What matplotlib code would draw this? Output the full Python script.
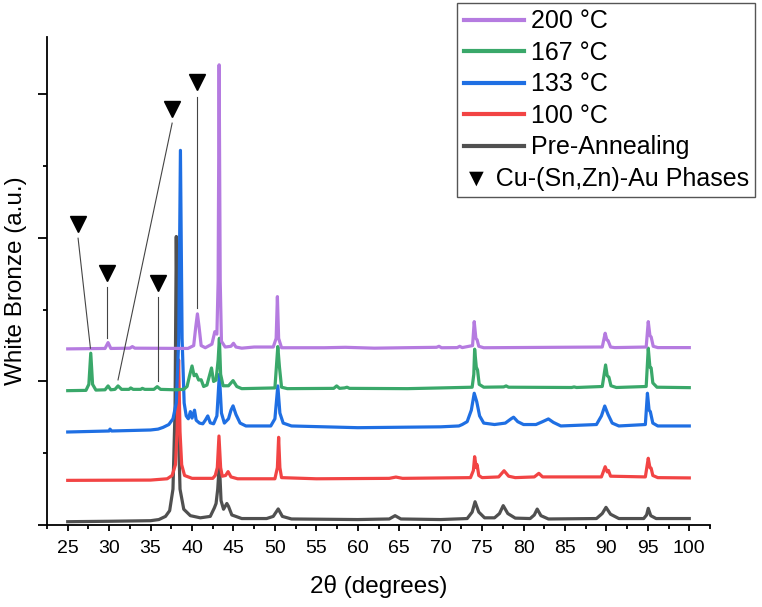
import matplotlib
matplotlib.use("Agg")
import matplotlib.pyplot as plt
from matplotlib.lines import Line2D

plt.rcParams['font.family'] = ['Liberation Sans', 'DejaVu Sans']

# Pre-Annealing
x_pre = [25, 30, 35, 36, 36.8, 37.3, 37.7, 37.95, 38.1, 38.3, 38.55, 39, 39.8, 41, 42.2, 42.7, 42.9, 43.1, 43.3, 43.5,
         43.8, 44.2, 44.4, 44.8, 46, 49, 49.8, 50.4, 50.9, 52, 60, 63.8, 64.5, 65.2, 70, 73.2, 73.8, 74.15, 74.6, 75.3,
         76.5, 77.1, 77.55, 78.1, 79, 80.8, 81.3, 81.65, 82.1, 83, 88.8, 89.5, 89.95, 90.5, 91.5, 94.5, 94.85, 95.05,
         95.35, 96, 100]
y_pre = [23, 26, 30, 38, 60, 100, 250, 800, 2010, 800, 250, 110, 65, 50, 60, 120, 150, 250, 430, 170,
         110, 150, 130, 70, 45, 45, 60, 112, 60, 42, 38, 42, 65, 42, 38, 45, 90, 162, 90, 50,
         50, 80, 135, 80, 48, 45, 70, 111, 65, 42, 45, 80, 123, 75, 45, 45, 70, 116,
         65, 45, 45]

# 100 °C
x_100 = [25, 35, 37, 37.6, 38, 38.2, 38.38, 38.55, 38.75, 39.1, 40, 42.5, 42.8, 43.05, 43.25, 43.45, 43.65, 44.05,
         44.35, 44.7, 45.5, 50.0, 50.3, 50.45, 50.6, 50.8, 55, 63.8, 64.6, 65.4, 73.6, 73.95, 74.1, 74.3, 74.4, 74.6,
         75, 77.0, 77.65, 78.2, 79, 81.3, 81.85, 82.3, 89.4, 89.85, 90.1, 90.25, 90.5, 94.7, 95.05, 95.25, 95.4, 95.6,
         96.2, 100]
y_100 = [311, 313, 322, 345, 420, 650, 1150, 650, 420, 345, 325, 325, 345, 400, 620, 400, 340, 345,
         372, 335, 322, 322, 400, 611, 400, 330, 322, 325, 334, 325, 330, 380, 476, 400, 420, 345,
         330, 335, 378, 340, 330, 335, 360, 335, 335, 406, 370, 380, 340, 335, 465, 400, 395, 345,
         330, 328]

# 133 °C
x_133 = [25, 30, 30.1, 30.3, 35, 35.9, 36.5, 37.2, 37.7, 38.1, 38.4, 38.6, 38.8, 39.05, 39.3, 39.55, 39.8, 40.0,
         40.3, 40.5, 40.9, 41.3, 41.6, 41.9, 42.2, 42.6, 43.0, 43.3, 43.55, 43.9, 44.4, 44.7, 44.95, 45.3, 45.8, 46.5,
         49.5, 50.0, 50.35, 50.6, 51, 52, 60, 70, 72.2, 72.6, 73.2, 73.7, 74.05, 74.35, 74.7, 75.2, 76.5, 77.8, 78.5,
         78.8, 79.3, 80, 81.5, 82.3, 83.0, 83.6, 84.5, 88.8, 89.4, 89.8, 90.2, 90.7, 91.5, 94.7, 94.95, 95.15, 95.3,
         95.6, 96.2, 100]
y_133 = [648, 655, 668, 655, 662, 668, 680, 700, 740, 850, 1300, 2610, 1300, 850, 760, 740, 790, 745,
         800, 730, 710, 705, 730, 760, 712, 705, 760, 1050, 780, 710, 740, 800, 830, 770, 710, 690,
         690, 740, 969, 780, 710, 690, 678, 684, 690, 700, 720, 800, 918, 860, 760, 710, 700, 710, 740,
         751, 720, 700, 700, 720, 739, 715, 690, 700, 760, 829, 770, 710, 690, 700, 918, 800, 790,
         710, 690, 690]

# 167 °C
x_167 = [25, 27.2, 27.55, 27.78, 28.0, 28.4, 29.5, 29.87, 30.2, 30.7, 31.07, 31.5, 32.4, 32.6, 32.9, 33.8, 34.0,
         34.3, 35.4, 35.8, 36.2, 38.0, 39.0, 39.4, 39.7, 40.0, 40.25, 40.5, 40.8, 41.1, 41.4, 41.8, 42.1, 42.35,
         42.6, 42.9, 43.15, 43.3, 43.45, 43.75, 44.4, 44.95, 45.4, 46, 50.0, 50.35, 50.55, 50.8, 51.5, 57.1, 57.45,
         57.8, 58.4, 58.7, 59, 66, 70, 73.8, 74.0, 74.1, 74.3, 74.45, 74.65, 75.2, 77.6, 77.9, 78.2, 85.8, 86.1,
         86.4, 89.5, 89.9, 90.1, 90.3, 90.55, 91.2, 94.8, 95.05, 95.25, 95.4, 95.6, 96.1, 100]
y_167 = [936, 938, 980, 1197, 980, 940, 942, 969, 942, 945, 969, 945, 945, 955, 945, 945, 952,
         945, 945, 964, 945, 942, 945, 965, 1040, 1108, 1040, 1050, 1010, 1012, 965, 975, 1040, 1094,
         1000, 1010, 1150, 1301, 1050, 970, 970, 1006, 965, 950, 955, 1243, 1100, 960, 950, 952, 969,
         952, 955, 960, 952, 950, 955, 960, 1050, 1225, 1100, 1080, 980, 960, 962, 969, 960, 958, 962,
         958, 965, 1115, 1040, 1030, 970, 958, 965, 1232, 1100, 1094, 990, 960, 957]

# 200 °C
x_200 = [25, 29.5, 29.87, 30.2, 32.5, 32.8, 33.1, 39.5, 40.2, 40.45, 40.65, 40.85, 41.1, 41.6, 42.4, 42.75, 43.0,
         43.15, 43.27, 43.4, 43.55, 44.0, 44.7, 45.0, 45.3, 46, 47.5, 49.8, 50.15, 50.3, 50.45, 50.8, 56, 58.5, 62,
         65.5, 69.5, 69.8, 70.1, 72.0, 72.3, 72.6, 73.85, 74.05, 74.25, 74.4, 74.6, 75.2, 89.5, 89.85, 90.05, 90.2,
         90.5, 91, 94.8, 95.05, 95.25, 95.4, 95.65, 96.2, 100]
y_200 = [1227, 1230, 1271, 1230, 1232, 1243, 1232, 1230, 1250, 1380, 1471, 1380, 1250, 1235, 1260, 1347, 1330,
         1700, 3206, 1700, 1280, 1240, 1245, 1266, 1240, 1232, 1240, 1240, 1300, 1591, 1300, 1235, 1235, 1238, 1232,
         1235, 1238, 1245, 1235, 1236, 1245, 1236, 1250, 1417, 1300, 1290, 1245, 1235, 1240, 1336, 1290, 1285,
         1240, 1236, 1240, 1417, 1320, 1310, 1245, 1236, 1236]

series = [
    ("Pre-Annealing", x_pre, y_pre, "#505050"),
    ("100 °C", x_100, y_100, "#f24444"),
    ("133 °C", x_133, y_133, "#1f6fe3"),
    ("167 °C", x_167, y_167, "#3aa86a"),
    ("200 °C", x_200, y_200, "#b57be0"),
]

# Cu-(Sn,Zn)-Au phase markers and their pointer lines
phase_x = [26.3, 29.8, 35.9, 37.6, 40.62]
phase_y = [2100, 1754, 1685, 2900, 3088]
ptr_x0 = [26.25, 29.8, 35.9, 37.6, 40.62]
ptr_y0 = [1998, 1657, 1587, 2800, 2985]
ptr_x1 = [27.74, 29.8, 35.9, 31.07, 40.62]
ptr_y1 = [1232, 1301, 1006, 1011, 1510]

fig = plt.figure(figsize=(7.62, 6.07), dpi=100)
ax = fig.add_axes([47 / 762, 82 / 607, 663 / 762, 488 / 607])

lines = {}
for name, xs, ys, col in series:
    ln, = ax.plot(xs, ys, color=col, lw=2.3, solid_joinstyle='round', label=name)
    lines[name] = ln

for i in range(len(phase_x)):
    ax.plot([ptr_x0[i], ptr_x1[i]], [ptr_y0[i], ptr_y1[i]], color='#444444', lw=0.8)
ax.plot(phase_x, phase_y, linestyle='none', marker='v', ms=12, color='black')

ax.set_xlim(22.5, 102.5)
ax.set_ylim(0, 3400)
ax.set_xticks(range(25, 101, 5))
ax.set_xticks([22.5 + 5 * i for i in range(17)], minor=True)
ax.set_yticks([0, 1000, 2000, 3000])
ax.set_yticks([500, 1500, 2500], minor=True)
ax.tick_params(axis='y', labelleft=False)
ax.tick_params(axis='both', which='major', width=1.3, labelsize=14)
ax.tick_params(axis='x', which='major', length=4.5, pad=6)
ax.tick_params(axis='y', which='major', length=6.5)
ax.tick_params(axis='both', which='minor', width=1.3, length=3)
for s in ['top', 'right']:
    ax.spines[s].set_visible(False)
for s in ['left', 'bottom']:
    ax.spines[s].set_linewidth(1.3)

ax.set_xlabel("2θ (degrees)", fontsize=17.5, labelpad=13)
ax.set_ylabel("White Bronze (a.u.)", fontsize=17.5, labelpad=8)

order = ["200 °C", "167 °C", "133 °C", "100 °C", "Pre-Annealing"]
handles = [lines[n] for n in order] + [Line2D([], [], linestyle='none')]
labels = order + ["▼ Cu-(Sn,Zn)-Au Phases"]
leg = ax.legend(handles, labels, loc='upper right', bbox_to_anchor=(755 / 762, 1 - 3 / 607),
                bbox_transform=fig.transFigure, borderaxespad=0, fontsize=18, frameon=True,
                fancybox=False, framealpha=1, edgecolor='#555555', handlelength=2.4,
                handletextpad=0.3, labelspacing=0.3, borderpad=0.25)
leg.get_frame().set_linewidth(1.0)
for h in leg.legend_handles:
    h.set_linewidth(3)
row = leg._legend_handle_box.get_children()[0].get_children()[-1]
row.sep = -2.4 * 18

fig.savefig("out.png", dpi=100)
